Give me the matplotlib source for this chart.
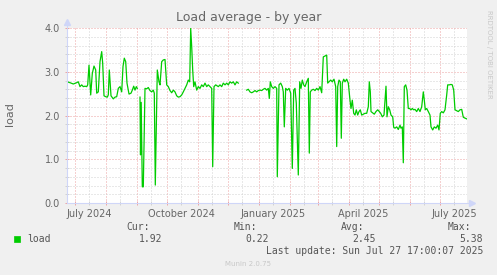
import datetime as dt
import numpy as np
import matplotlib
matplotlib.use("Agg")
import matplotlib.pyplot as plt
import matplotlib.dates as mdates
from matplotlib.patches import Rectangle
from matplotlib.ticker import MultipleLocator, FuncFormatter, NullFormatter

# days since the left edge of the graph (400 days ending at the last update)
days = [0, 3, 6.3, 9.7, 11.3, 13, 14.7, 16.3, 18, 19.7,
        20.7, 22, 23.7, 25.3, 27, 28.7, 29.7, 31.3, 33, 34.7,
        35.7, 37, 38.7, 40.3, 41.3, 42.3, 44, 46.3, 48, 49.7,
        51.3, 53, 54.7, 56, 57.3, 58.7, 60, 62, 64, 65.3,
        66.7, 68, 69.3, 70.3, 71.5, 73, 73.5, 74.2, 75.3, 76.3,
        78, 79.7, 81.3, 83, 84.7, 86.3, 87.3, 88.3, 90.3, 92,
        93, 94.7, 96.3, 98, 99.7, 101.3, 103, 104.7, 106.3, 108,
        109.7, 111.3, 113, 114.7, 116.3, 118, 119.7, 121.3, 122.7, 123.7,
        124.7, 125.7, 126.7, 128, 129.7, 131.3, 133, 134.7, 136.3, 138,
        139.7, 141.3, 143, 144.7, 145.7, 147, 148.7, 151.3, 153, 154.7,
        156.3, 158, 159.7, 161.3, 163, 164.7, 166.3, 168, 169.7, 171.3,
        175, 179.7, 181.3, 183, 184.7, 186.3, 188, 189.7, 191.3, 193,
        194.7, 196.3, 198, 199.7, 201.3, 202.3, 203.3, 204.7, 206.3, 208,
        209.7, 210.3, 212, 213.7, 215.3, 216.3, 217.3, 218.7, 220.3, 222,
        223.7, 225.3, 226.7, 228, 229.3, 231.3, 232.7, 234, 235.3, 236.7,
        238, 239.7, 241.3, 242.3, 243.3, 244.7, 246.3, 248, 249.7, 251.3,
        253, 254.7, 256.3, 258, 259.7, 260.7, 262, 263.7, 265.3, 267,
        268.7, 269.7, 270.7, 272, 273.3, 274.3, 275.3, 276.7, 278, 279.7,
        281.3, 283, 284, 285.3, 286.7, 288, 289.3, 290.7, 292, 293.3,
        294.7, 296.3, 298, 299.7, 301.3, 302.3, 303.3, 304, 305.7, 307.3,
        309, 310.7, 312.3, 313.7, 315.3, 317, 318, 319, 320, 321.3,
        322.7, 324, 325.7, 326.7, 328, 329.7, 331.3, 333, 334, 335.3,
        336.3, 337.3, 338.7, 340, 341.3, 342.7, 344, 345.3, 346.7, 348,
        349.7, 351.3, 353, 354.7, 356.3, 357.3, 358.3, 359.7, 361.3, 363,
        364, 365.7, 367.3, 369, 370.7, 372, 373.3, 374.7, 376.3, 378,
        379.7, 380.7, 382.3, 384, 385.3, 386.7, 388, 389.7, 391.3, 393,
        394.7, 396.3, 398, 400]

load = [2.77, 2.75, 2.72, 2.75, 2.77, 2.66, 2.70, 2.66, 2.67, 2.66,
        2.70, 3.15, 2.47, 2.96, 3.13, 3.04, 2.51, 2.54, 3.23, 3.46,
        3.19, 2.45, 2.43, 2.42, 2.47, 3.04, 2.45, 2.38, 2.42, 2.43,
        2.62, 2.66, 2.54, 3.12, 3.31, 3.23, 2.74, 2.49, 2.51, 2.58,
        2.67, 2.58, 2.66, 2.62, np.nan, 2.42, 1.10, 2.30, 0.37, 0.37,
        2.62, 2.61, 2.64, 2.57, 2.54, 2.58, 2.51, 0.41, 3.04, 2.77,
        2.70, 3.23, 3.27, 3.28, 2.70, 2.66, 2.57, 2.52, 2.58, 2.54,
        2.45, 2.42, 2.43, 2.47, 2.54, 2.62, 2.70, 2.81, 2.77, 3.99,
        3.57, 3.04, 2.66, 2.77, 2.58, 2.66, 2.62, 2.70, 2.66, 2.74,
        2.66, 2.70, 2.66, 2.62, 0.83, 2.66, 2.70, 2.66, 2.70, 2.66,
        2.74, 2.70, 2.74, 2.70, 2.77, 2.74, 2.77, 2.70, 2.77, 2.74,
        np.nan, 2.58, 2.60, 2.54, 2.52, 2.54, 2.57, 2.54, 2.57, 2.58,
        2.57, 2.60, 2.62, 2.58, 2.62, 2.39, 2.77, 2.66, 2.62, 2.66,
        2.62, 0.60, 2.70, 2.74, 2.66, 2.54, 1.74, 2.62, 2.58, 2.62,
        2.51, 0.79, 2.58, 2.62, 2.28, 0.64, 2.77, 2.62, 2.81, 2.70,
        2.66, 2.77, 2.85, 1.14, 2.54, 2.58, 2.60, 2.57, 2.62, 2.58,
        2.66, 2.52, 3.34, 3.36, 3.38, 2.74, 2.77, 2.81, 2.77, 2.83,
        2.66, 1.29, 2.66, 2.81, 2.77, 1.48, 2.74, 2.83, 2.77, 2.83,
        2.74, 2.35, 2.16, 2.35, 2.05, 2.01, 2.13, 2.01, 2.09, 2.13,
        2.01, 2.03, 2.05, 2.05, 2.20, 2.77, 2.54, 2.09, 2.06, 2.03,
        2.09, 2.13, 2.09, 2.05, 1.97, 2.01, 2.35, 2.67, 1.97, 2.20,
        2.13, 2.01, 1.97, 1.73, 1.71, 1.74, 1.68, 1.78, 1.71, 1.74,
        0.92, 2.66, 2.70, 2.58, 2.16, 2.16, 2.13, 2.16, 2.13, 2.14,
        2.09, 2.16, 2.09, 2.20, 2.54, 2.35, 2.13, 2.16, 2.09, 2.01,
        1.74, 1.67, 1.74, 1.71, 1.78, 1.67, 2.05, 2.09, 2.06, 2.13,
        2.47, 2.70, 2.70, 2.71, 2.70, 2.58, 2.13, 2.11, 2.09, 2.13,
        2.14, 1.96, 1.94, 1.92]

legend_heads = ["Cur:", "Min:", "Avg:", "Max:"]
legend_vals = ["1.92", "0.22", "2.45", "5.38"]
last_update = "Last update: Sun Jul 27 17:00:07 2025"

end = dt.datetime(2025, 7, 27, 17, 0, 7)
start = end - dt.timedelta(days=400)
x = [start + dt.timedelta(days=d) for d in days]

W, H = 497, 275
FONT = "#666666"
MGRID = "#EDA3A3"
GRID = "#D2D2D2"
AXIS = "#CFD6F8"

fig = plt.figure(figsize=(W / 100, H / 100), dpi=100, facecolor="#F0F0F0")
ax = fig.add_axes([67 / W, 72 / H, 400 / W, 175 / H])
ax.set_facecolor("white")

ax.plot(x, load, color="#00CC00", lw=0.9, zorder=5)

ax.set_xlim(start, end)
ax.set_ylim(0, 4)

ax.yaxis.set_major_locator(MultipleLocator(1))
ax.yaxis.set_minor_locator(MultipleLocator(0.2))
ax.yaxis.set_major_formatter(FuncFormatter(lambda v, p: "%.1f" % v))

ax.xaxis.set_major_locator(mdates.MonthLocator())
ax.xaxis.set_minor_locator(mdates.MonthLocator(bymonthday=15))
ax.xaxis.set_major_formatter(NullFormatter())


def month_label(v, pos):
    d = mdates.num2date(v)
    return d.strftime("%B %Y") if d.month in (1, 4, 7, 10) else ""


ax.xaxis.set_minor_formatter(FuncFormatter(month_label))

ax.grid(which="major", color=MGRID, lw=0.72, linestyle=(0, (1, 2)), zorder=1)
ax.grid(which="minor", color=GRID, lw=0.72, linestyle=(0, (1, 2)), zorder=0)
ax.set_axisbelow(True)

for s in ax.spines.values():
    s.set_visible(False)
ax.tick_params(which="major", direction="inout", length=3, width=0.7,
               color=MGRID, labelcolor=FONT, labelsize=7)
ax.tick_params(which="minor", direction="inout", length=3, width=0.7,
               color=GRID, labelcolor=FONT, labelsize=7)
ax.tick_params(axis="x", which="both", pad=2.5)
ax.tick_params(axis="y", which="both", pad=3.5)

# axis lines with arrows
ax.plot([0, 1.012], [0, 0], transform=ax.transAxes, color=AXIS, lw=0.8,
        clip_on=False, zorder=6)
ax.plot([0, 0], [0, 1.03], transform=ax.transAxes, color=AXIS, lw=0.8,
        clip_on=False, zorder=6)
ax.plot([1.012], [0], marker=">", ms=5, color=AXIS, transform=ax.transAxes,
        clip_on=False, zorder=6)
ax.plot([0], [1.035], marker="^", ms=5, color=AXIS, transform=ax.transAxes,
        clip_on=False, zorder=6)

def fx(px):
    return px / W


def fy(py):
    return 1 - py / H


fig.text(fx(249), fy(18), "Load average - by year", ha="center", va="center",
         fontsize=9, color=FONT)
fig.text(fx(10), fy(114), "load", rotation=90, ha="center", va="center",
         fontsize=8, color=FONT)
fig.text(fx(489), fy(10), "RRDTOOL / TOBI OETIKER", rotation=270,
         ha="center", va="top", fontsize=5, color="#C8C8C8")

mono = "DejaVu Sans Mono"
fig.add_artist(Rectangle((fx(14), fy(242)), 6 / W, 6 / H,
                         transform=fig.transFigure, facecolor="#00CC00",
                         edgecolor="#00CC00", lw=0.5))
fig.text(fx(27), fy(239), "load", ha="left", va="center", fontsize=7,
         family=mono, color="#555555")
for i, (h, v) in enumerate(zip(legend_heads, legend_vals)):
    fig.text(fx(150 + 107 * i), fy(227), h, ha="right", va="center",
             fontsize=7, family=mono, color="#555555")
    fig.text(fx(162 + 107 * i), fy(239), v, ha="right", va="center",
             fontsize=7, family=mono, color="#555555")
fig.text(fx(483), fy(251), last_update, ha="right", va="center", fontsize=7,
         family=mono, color="#555555")
fig.text(fx(248), fy(264), "Munin 2.0.75", ha="center", va="center",
         fontsize=5, color="#C8C8C8")

fig.savefig("out.png", dpi=100, facecolor=fig.get_facecolor())
